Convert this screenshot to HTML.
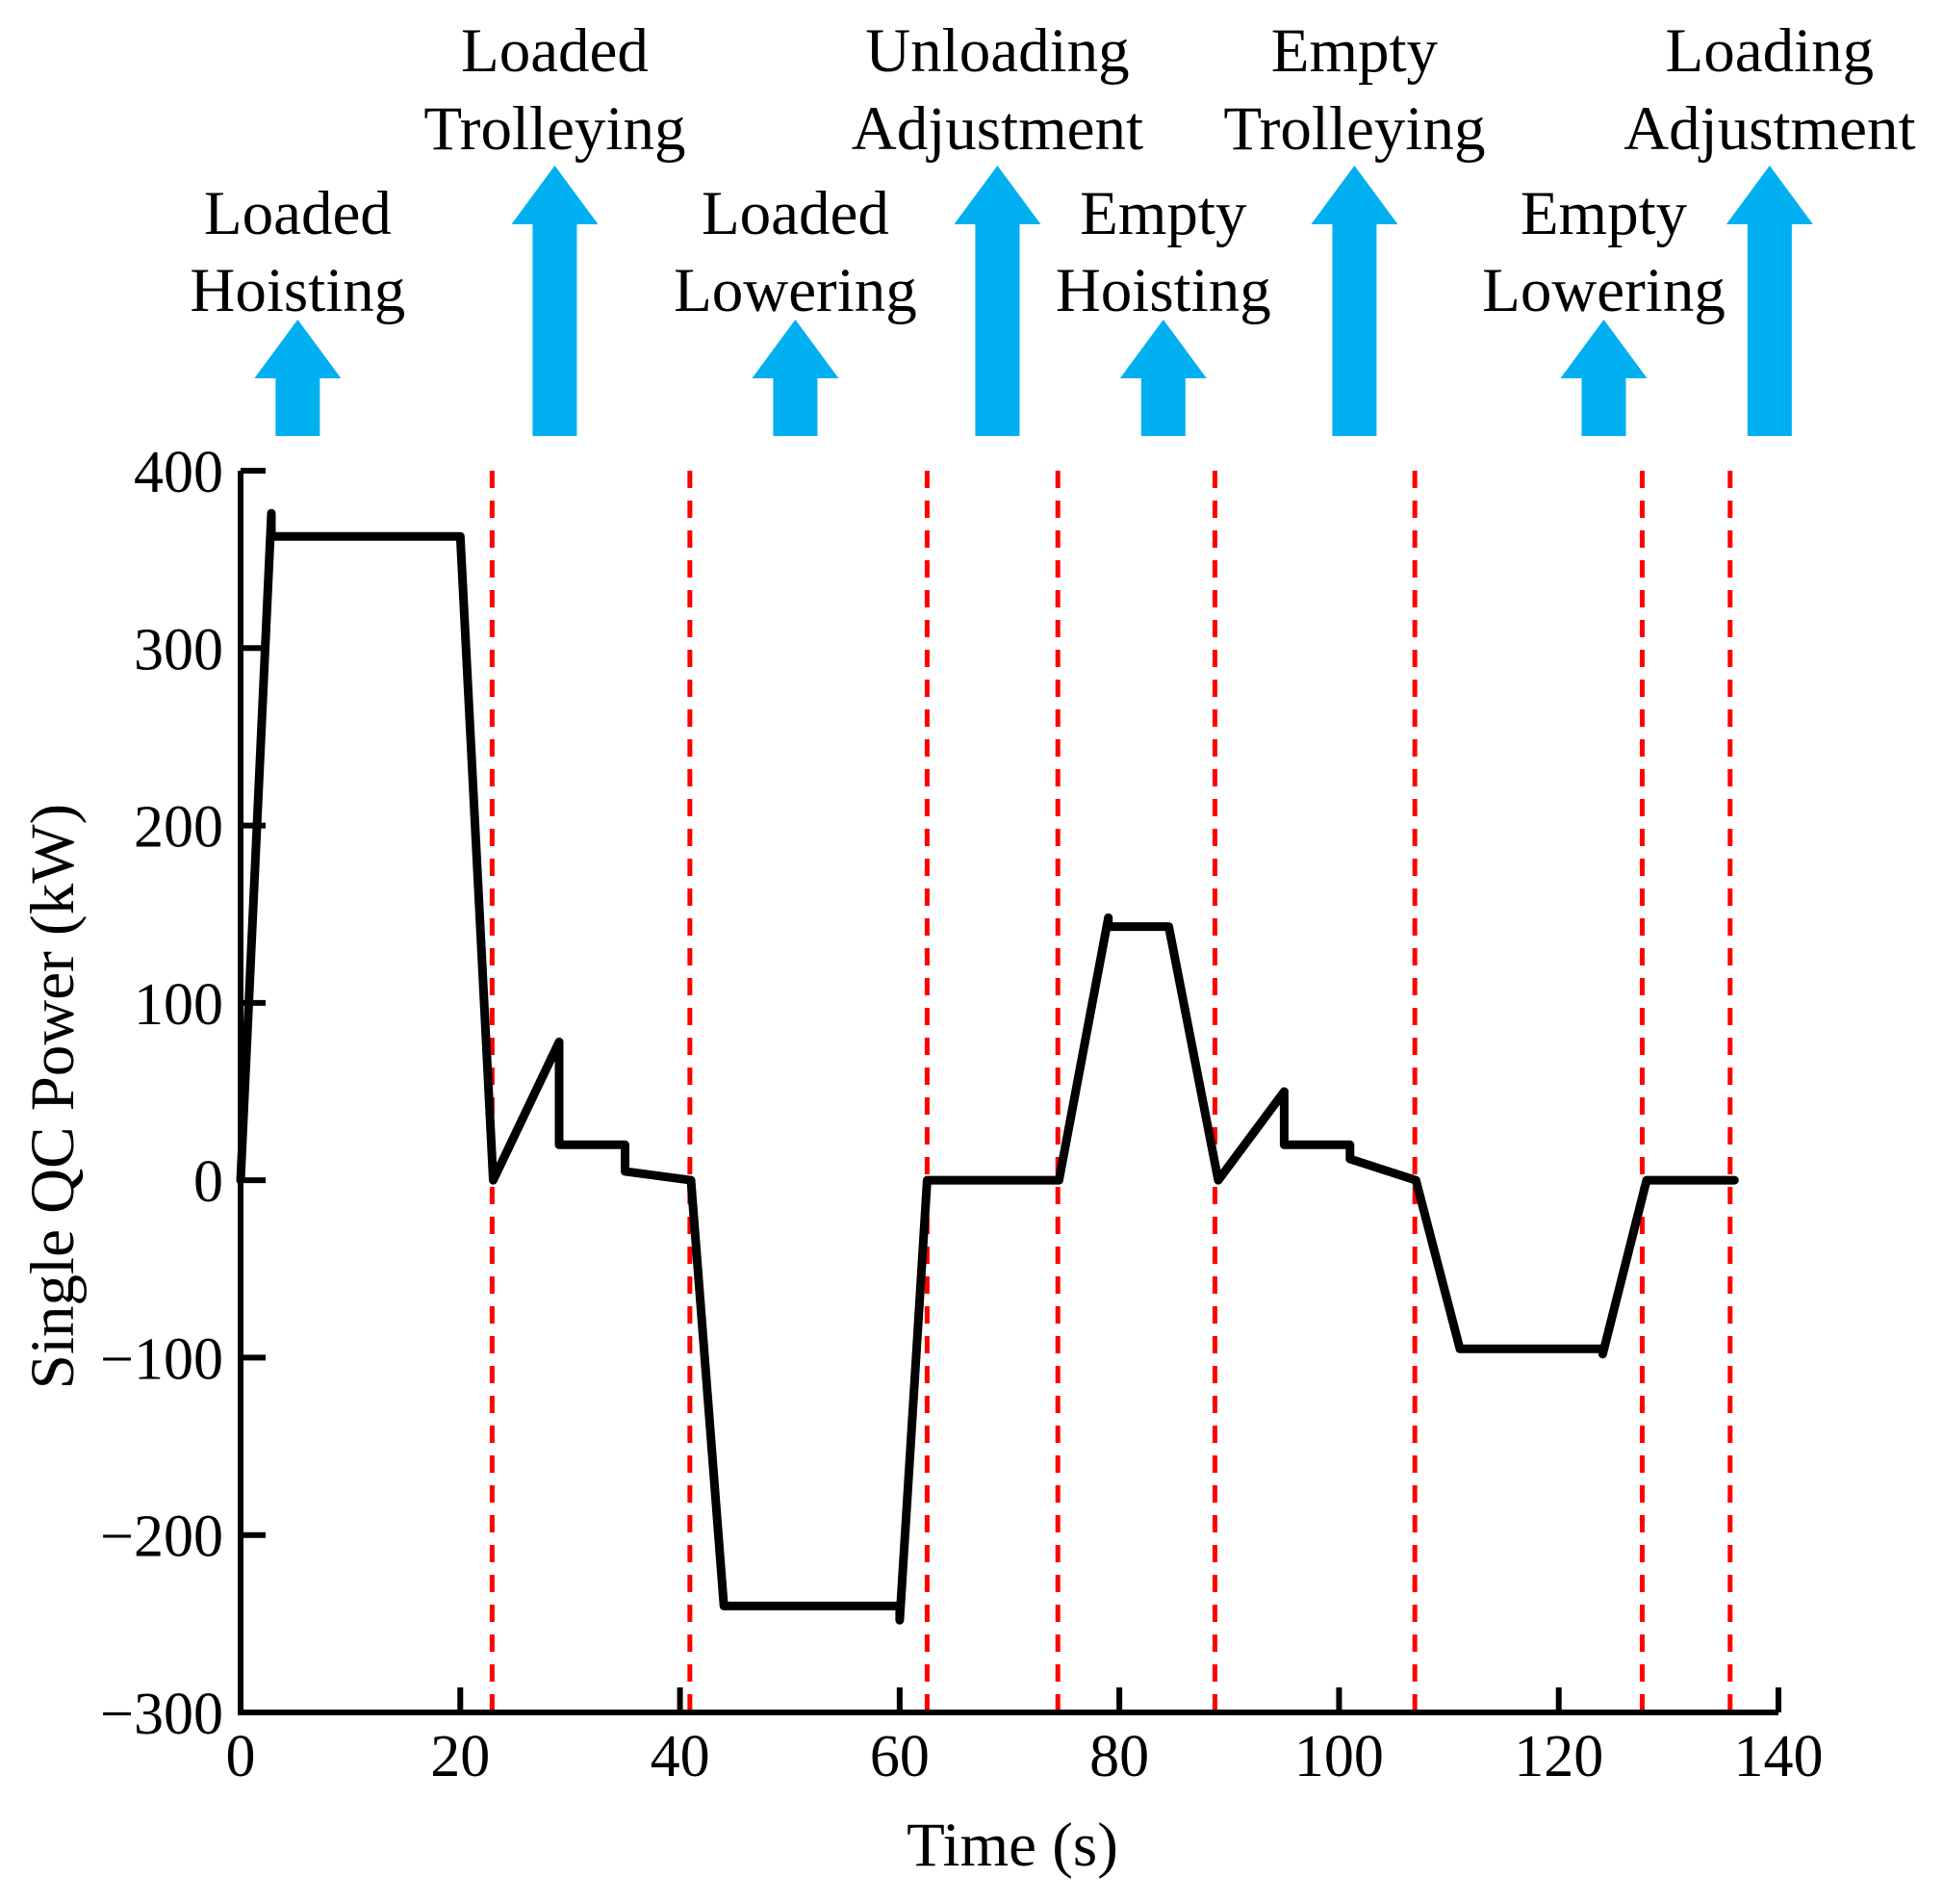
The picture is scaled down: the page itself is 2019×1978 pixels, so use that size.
<!DOCTYPE html>
<html><head><meta charset="utf-8"><style>
html,body{margin:0;padding:0;background:#fff;}
svg{display:block;font-family:"Liberation Serif",serif;}
</style></head><body>
<svg id="chart" width="2019" height="1978" viewBox="0 0 2019 1978" xmlns="http://www.w3.org/2000/svg">
<g id="phases"></g>
<g id="vlines"></g>
<g id="axes"></g>
<g id="series"></g>
<text x="0" y="0" transform="translate(76,1139) rotate(-90)" text-anchor="middle" font-size="65">Single QC Power (kW)</text>
<text x="1052" y="1938" text-anchor="middle" font-size="65">Time (s)</text>
</svg>
<script>
const timeValues = [0, 2.8, 2.8, 20, 23, 29, 29, 35, 35, 41, 44, 60, 60, 62.5, 74.5, 79, 79, 84.5, 89, 95, 95, 101, 101, 107, 111, 124, 124, 128, 136];
const powerValues = [0, 376, 363, 363, 0, 78, 20, 20, 5, 0, -240, -240, -248, 0, 0, 148, 143, 143, 0, 50, 20, 20, 12, 0, -95, -95, -98, 0, 0];
const boundaryTimes = [22.9, 40.9, 62.5, 74.4, 88.7, 106.9, 127.6, 135.6];
const xTicks = [0, 20, 40, 60, 80, 100, 120, 140];
const yTicks = [-300, -200, -100, 0, 100, 200, 300, 400];
const phaseLabels = [["Loaded","Hoisting"],["Loaded","Trolleying"],["Loaded","Lowering"],["Unloading","Adjustment"],["Empty","Hoisting"],["Empty","Trolleying"],["Empty","Lowering"],["Loading","Adjustment"]];
const phaseCenters = [5.2, 28.6, 50.5, 68.9, 84.0, 101.4, 124.1, 139.2];
const phaseBig = [false, true, false, true, false, true, false, true];

const NS = "http://www.w3.org/2000/svg";
const X0 = 250, X1 = 1848, Y0 = 1779, Y1 = 489;
const sx = t => X0 + (t - 0) / 140 * (X1 - X0);
const sy = v => Y0 - (v + 300) / 700 * (Y0 - Y1);
function mk(tag, attrs, parent) {
  const el = document.createElementNS(NS, tag);
  for (const k in attrs) el.setAttribute(k, attrs[k]);
  parent.appendChild(el);
  return el;
}
const axes = document.getElementById('axes');
let el = mk('path', {d: `M${X0},${Y1} V${Y0} H${X1}`, fill: 'none', stroke: '#000', 'stroke-width': 6}, axes);


yTicks.forEach(v => {
  const t = mk('line', {x1: X0, x2: X0 + 26, y1: sy(v), y2: sy(v), stroke: '#000', 'stroke-width': 6}, axes);
  
  
  const l = mk('text', {x: X0 - 18, y: sy(v) + 22, 'text-anchor': 'end', 'font-size': 62}, axes);
  l.textContent = v < 0 ? '\u2212' + (-v) : String(v);
  
  
});
xTicks.forEach(v => {
  const t = mk('line', {x1: sx(v), x2: sx(v), y1: Y0, y2: Y0 - 26, stroke: '#000', 'stroke-width': 6}, axes);
  
  
  const l = mk('text', {x: sx(v), y: Y0 + 66, 'text-anchor': 'middle', 'font-size': 62}, axes);
  l.textContent = String(v);
  
  
});
const vl = document.getElementById('vlines');
boundaryTimes.forEach(t => {
  const l = mk('line', {x1: sx(t), x2: sx(t), y1: Y1, y2: Y0, stroke: '#ff0000', 'stroke-width': 5, 'stroke-dasharray': '18 13'}, vl);
  
  
});
const ser = document.getElementById('series');
const pts = timeValues.map((t, i) => sx(t).toFixed(1) + ',' + sy(powerValues[i]).toFixed(1)).join(' ');
const pl = mk('polyline', {points: pts, fill: 'none', stroke: '#000', 'stroke-width': 9, 'stroke-linejoin': 'round', 'stroke-linecap': 'round'}, ser);


const ph = document.getElementById('phases');
phaseCenters.forEach((t, i) => {
  const cx = sx(t), big = phaseBig[i];
  const tip = big ? 172 : 332, base = big ? 233 : 393, bot = 453;
  const a = mk('path', {d: `M${cx},${tip} L${cx+45},${base} L${cx+23},${base} L${cx+23},${bot} L${cx-23},${bot} L${cx-23},${base} L${cx-45},${base} Z`, fill: '#00b0f0'}, ph);
  
  
  const b1 = big ? 74 : 243, b2 = big ? 155 : 323;
  [b1, b2].forEach((b, j) => {
    const tx = mk('text', {x: cx, y: b, 'text-anchor': 'middle', 'font-size': 65}, ph);
    tx.textContent = phaseLabels[i][j];
    
    
  });
});
</script>
</body></html>
